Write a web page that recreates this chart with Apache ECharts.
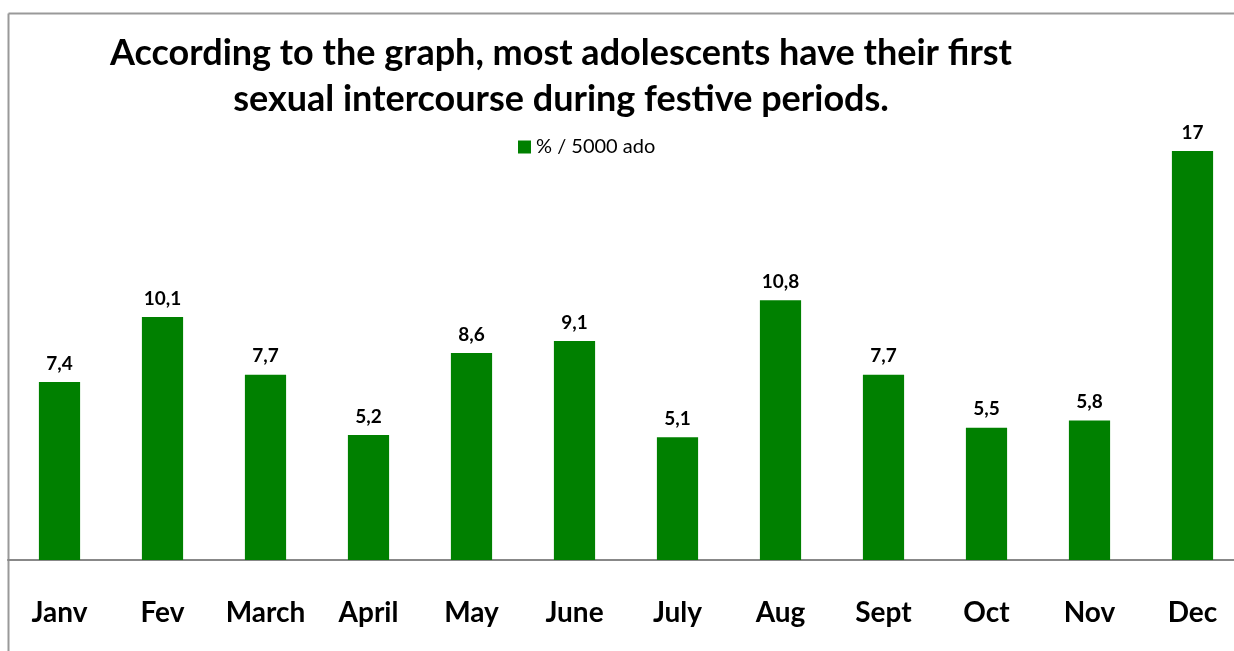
<!DOCTYPE html>
<html><head><meta charset="utf-8">
<script src="https://cdn.jsdelivr.net/npm/echarts@6/dist/echarts.min.js"></script>
<style>html,body{margin:0;padding:0;background:#fff;overflow:hidden}#c{width:1234px;height:651px}</style>
</head><body><div id="c"></div>
<script>
const categories = ['Janv','Fev','March','April','May','June','July','Aug','Sept','Oct','Nov','Dec'];
const values = [7.4, 10.1, 7.7, 5.2, 8.6, 9.1, 5.1, 10.8, 7.7, 5.5, 5.8, 17];
const seriesName = '% / 5000 ado';
const titleLines = ['According to the graph, most adolescents have their first', 'sexual intercourse during festive periods.'];

const chart = echarts.init(document.getElementById('c'));
const FONT = 'Lato, "Open Sans", sans-serif';
chart.setOption({
  animation: false,
  title: {
    text: titleLines.join('\n'),
    left: 556, top: 25, textAlign: 'center',
    textStyle: { fontFamily: FONT, fontWeight: 'bold', fontSize: 36, lineHeight: 46, color: '#000' }
  },
  legend: {
    data: [seriesName], left: 513, top: 132,
    itemWidth: 13, itemHeight: 13, itemGap: 8,
    icon: 'rect',
    textStyle: { fontFamily: FONT, fontSize: 20, color: '#000' }
  },
  grid: { left: 8, top: 151, width: 1236, height: 409, containLabel: false, outerBoundsMode: 'none' },
  xAxis: {
    type: 'category', data: categories,
    axisLine: { lineStyle: { color: '#888', width: 2 } },
    axisTick: { show: false },
    axisLabel: { interval: 0, hideOverlap: false, fontFamily: FONT, fontWeight: 'bold', fontSize: 28, color: '#000', margin: 39 }
  },
  yAxis: { type: 'value', min: 0, max: 17, show: false, splitLine: { show: false } },
  graphic: [
    { type: 'line', shape: { x1: 8.5, y1: 13.5, x2: 1234, y2: 13.5 }, style: { stroke: '#999', lineWidth: 2 }, silent: true, z: -1 },
    { type: 'line', shape: { x1: 8.5, y1: 13.5, x2: 8.5, y2: 651 }, style: { stroke: '#999', lineWidth: 2 }, silent: true, z: -1 }
  ],
  series: [{
    name: seriesName, type: 'bar', data: values, barWidth: '40%',
    itemStyle: { color: '#008000' },
    label: {
      show: true, position: 'top', distance: 9,
      fontFamily: FONT, fontWeight: 'bold', fontSize: 19, color: '#000',
      formatter: p => String(p.value).replace('.', ',')
    }
  }]
});
</script></body></html>
